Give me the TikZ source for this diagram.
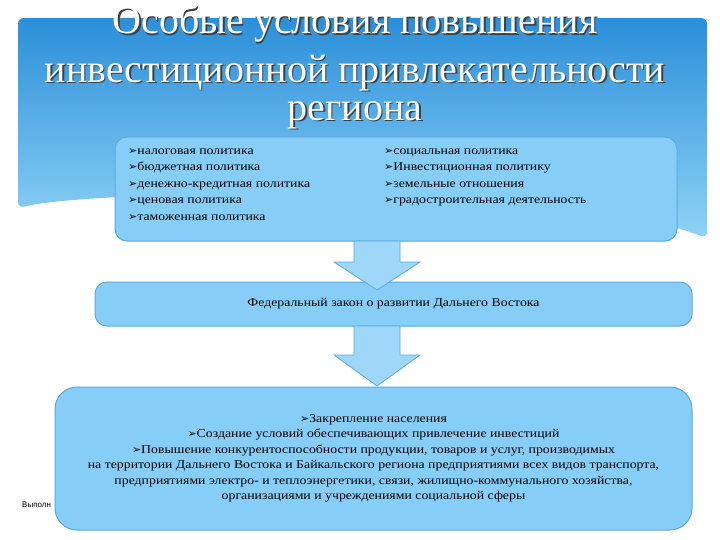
\documentclass[tikz,border=0pt]{standalone}
\usepackage{fontspec}
\setmainfont{Liberation Serif}
\newfontfamily\sansf{Liberation Sans}
\newfontfamily\wide[FakeStretch=1.15]{Liberation Serif}
\newfontfamily\symf{DejaVu Sans}
\newcommand{\ar}{{\symf\fontsize{11}{11}\selectfont ➢}}
\usetikzlibrary{shapes.arrows,shadows}
\definecolor{bandtop}{HTML}{2B8FD9}
\definecolor{bandbot}{HTML}{8FD3F5}
\definecolor{boxfill}{HTML}{86CDF7}
\definecolor{boxline}{HTML}{5DA9DE}
\tikzset{
 box/.style={draw=boxline,line width=1pt,fill=boxfill,rounded corners=12pt,inner sep=0pt},
 arr/.style={draw=boxline,line width=0.8pt,fill=boxfill!80!white},
 ttl/.style={text=white,font=\fontsize{40}{40}\selectfont,inner sep=0pt},
 ttlsh/.style={text=black!75,font=\fontsize{40}{40}\selectfont,inner sep=0pt},
 lst/.style={font=\wide\fontsize{12}{16.5}\selectfont,align=left,anchor=north west,inner sep=0pt},
}
\begin{document}
\begin{tikzpicture}[x=1pt,y=-1pt]
\useasboundingbox (0,0) rectangle (720,540);
\fill[white] (0,0) rectangle (720,540);
% header band
\shade[top color=bandtop,bottom color=bandbot,rounded corners=6pt]
 (18,18) -- (707,18) -- (707,238) -- (707,238) .. controls (600,200) and (450,185) .. (300,190) .. controls (150,195) and (60,198) .. (18,208) -- cycle;
% title
\foreach \t/\yy in {{Особые условия повышения}/24,{инвестиционной привлекательности}/73,{региона}/115}{
 \node[ttlsh] at (356.5,\yy+1.5) {\t};
 \node[ttl] at (355,\yy) {\t};
}
% boxes
\node[box,minimum width=562pt,minimum height=104pt] (top) at (396,189) {};
\node[lst] at (128,148) {\ar налоговая политика\\\ar бюджетная политика\\\ar денежно-кредитная политика\\\ar ценовая политика\\\ar таможенная политика};
\node[lst] at (384,148) {\ar социальная политика\\\ar Инвестиционная политику\\\ar земельные отношения\\\ar градостроительная деятельность};
\node[box,minimum width=597pt,minimum height=44pt,font=\wide\fontsize{12}{13}\selectfont] (mid) at (393.5,304) {Федеральный закон о развитии Дальнего Востока};
\node[anchor=west,font=\sansf\fontsize{8}{9}\selectfont,inner sep=0pt] (vyp) at (22,505) {Выполн};
\node[box,minimum width=637pt,minimum height=143pt,rounded corners=22pt,align=center,font=\wide\fontsize{12}{15.5}\selectfont] (bot) at (373.5,458.5) {\ar Закрепление населения\\\ar Создание условий обеспечивающих привлечение инвестиций\\\ar Повышение конкурентоспособности продукции, товаров и услуг, производимых\\на территории Дальнего Востока и Байкальского региона предприятиями всех видов транспорта,\\предприятиями электро- и теплоэнергетики, связи, жилищно-коммунального хозяйства,\\организациями и учреждениями социальной сферы};
% arrows
\draw[arr] (354,241) -- (400,241) -- (400,262) -- (420,262) -- (377,290) -- (334,262) -- (354,262) -- cycle;
\draw[arr] (354,326) -- (400,326) -- (400,355) -- (420,355) -- (377,386) -- (334,355) -- (354,355) -- cycle;
\end{tikzpicture}
\end{document}
